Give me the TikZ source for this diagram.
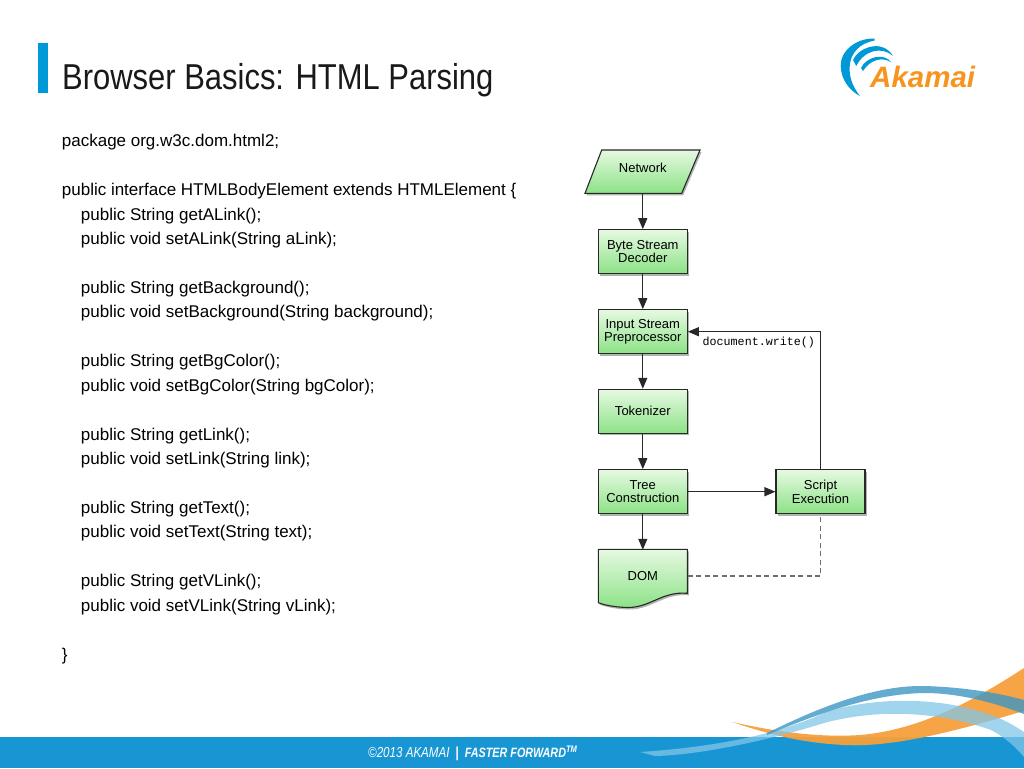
\documentclass[tikz,border=0pt]{standalone}
\usepackage{fontspec}
\setmainfont{Liberation Sans}
\setmonofont{Liberation Mono}
\newfontfamily\titlefont[FakeStretch=0.86]{Liberation Sans}
\newfontfamily\footfont[FakeStretch=0.8]{Liberation Sans}
\usetikzlibrary{arrows.meta,shadows}
\definecolor{akblue}{RGB}{0,153,216}
\definecolor{akorange}{RGB}{247,148,29}
\definecolor{bandblue}{RGB}{24,150,212}
\definecolor{swor}{RGB}{246,160,60}
\definecolor{swdark}{RGB}{60,150,196}
\definecolor{swlight}{RGB}{130,198,232}
\definecolor{gtop}{RGB}{230,249,226}
\definecolor{gbot}{RGB}{140,226,134}
\definecolor{lineC}{RGB}{40,40,40}
\definecolor{dashC}{RGB}{110,110,110}
\definecolor{titleC}{RGB}{25,25,25}
\tikzset{
  procbox/.style={draw=lineC, line width=1.1pt, top color=gtop, bottom color=gbot,
    minimum width=89pt, minimum height=44pt, inner sep=0pt, align=center,
    font=\fontsize{13}{13.4}\selectfont,
    drop shadow={shadow xshift=1.5pt, shadow yshift=-2pt, fill=black, opacity=0.3}},
  shapefill/.style={draw=lineC, line width=1.1pt, top color=gtop, bottom color=gbot,
    drop shadow={shadow xshift=1.5pt, shadow yshift=-2pt, fill=black, opacity=0.3}},
  labelnode/.style={inner sep=0pt, align=center, font=\fontsize{13}{13.4}\selectfont},
  arr/.style={draw=lineC, line width=1.2pt, -{Triangle[length=11pt,width=9pt]}},
  dashline/.style={draw=dashC, line width=1.1pt, dash pattern=on 5pt off 3.5pt},
  code/.style={anchor=base west, inner sep=0pt, text=black, font=\fontsize{17}{18}\selectfont}
}
\begin{document}
\begin{tikzpicture}[x=1pt,y=-1pt]
\fill[white] (0,0) rectangle (1024,768);
\useasboundingbox (0,0) rectangle (1024,768);

% title
\fill[akblue] (38,43) rectangle (47.5,93);
\node[anchor=base west, inner sep=0pt, text=titleC, font=\titlefont\fontsize{36}{40}\selectfont] (title) at (62,89.5) {Browser Basics: HTML Parsing};

% logo
\fill[akblue] (874.7,38.5) .. controls (855,38) and (840,52) .. (840.7,66)
  .. controls (841,80) and (850,91) .. (860,96)
  .. controls (852,86) and (849,76) .. (849.7,67)
  .. controls (850,53) and (860,43) .. (874.7,40.5) -- cycle;
\fill[akblue] (853,60) .. controls (858,48) and (882,38) .. (893,56)
  .. controls (882,46) and (864,50) .. (856.3,66) -- cycle;
\fill[akblue] (861,68) .. controls (866,57) and (884,52) .. (891.3,62.5)
  .. controls (882,56) and (870,60) .. (863,71) -- cycle;
\node[anchor=base west, inner sep=0pt, text=akorange, font=\bfseries\itshape\fontsize{29.5}{30}\selectfont] (logo) at (870,87) {Akamai};

% code
\node[code] (c0) at (61.7,146.7) {package org.w3c.dom.html2;};
\node[code] (c2) at (61.7,195.6) {public interface HTMLBodyElement extends HTMLElement \{};
\node[code] (c3) at (80.7,220.05) {public String getALink();};
\node[code] (c4) at (80.7,244.5) {public void setALink(String aLink);};
\node[code] (c6) at (80.7,293.4) {public String getBackground();};
\node[code] (c7) at (80.7,317.85) {public void setBackground(String background);};
\node[code] (c9) at (80.7,366.75) {public String getBgColor();};
\node[code] (c10) at (80.7,391.2) {public void setBgColor(String bgColor);};
\node[code] (c12) at (80.7,440.1) {public String getLink();};
\node[code] (c13) at (80.7,464.55) {public void setLink(String link);};
\node[code] (c15) at (80.7,513.45) {public String getText();};
\node[code] (c16) at (80.7,537.9) {public void setText(String text);};
\node[code] (c18) at (80.7,586.8) {public String getVLink();};
\node[code] (c19) at (80.7,611.25) {public void setVLink(String vLink);};
\node[code] (c21) at (61.7,660.15) {\}};

% diagram
\path[shapefill] (601.7,150) -- (700,150) -- (681.7,193.3) -- (585,193.3) -- cycle;
\node[labelnode, minimum width=98pt, minimum height=43.3pt, text height=5pt, text depth=4pt] (net) at (642.8,171.7) {Network};
\node[procbox] (byte) at (642.8,251.7) {Byte Stream\\Decoder};
\node[procbox] (inp) at (642.8,331.7) {Input Stream\\Preprocessor};
\node[procbox] (tok) at (642.8,411.3) {Tokenizer};
\node[procbox] (tree) at (642.8,491.7) {Tree\\Construction};
\node[procbox] (script) at (820.5,491.7) {Script\\Execution};
\path[shapefill] (598.3,549.3) -- (687.3,549.3) -- (687.3,593.3)
  .. controls (662,591) and (650,608) .. (627,607.5)
  .. controls (612,607) and (603,604.5) .. (598.3,602.7) -- cycle;
\node[labelnode, minimum width=89pt, minimum height=52pt] (dom) at (642.8,576) {DOM};

\draw[arr] (net.south) -- (byte.north);
\draw[arr] (byte.south) -- (inp.north);
\draw[arr] (inp.south) -- (tok.north);
\draw[arr] (tok.south) -- (tree.north);
\draw[arr] (tree.south) -- (dom.north);
\draw[arr] (tree.east) -- (script.west);
\draw[arr] (script.north) -- (script.north |- inp.east) -- (inp.east);
\node[anchor=base, inner sep=0pt, font=\ttfamily\fontsize{11.7}{12}\selectfont] (dw) at (758.8,345) {document.write()};
\draw[dashline] (dom.east) -| (script.south);

% footer band and swooshes
\fill[bandblue] (0,736.5) rectangle (1024,768);
\fill[swor, opacity=0.95] (732,722) .. controls (790,735) and (830,737) .. (860,735)
  .. controls (920,730) and (975,700) .. (1024,668) -- (1024,711)
  .. controls (975,725) and (900,748) .. (845,745)
  .. controls (800,743) and (765,733) .. (732,722) -- cycle;
\fill[swlight, opacity=0.75] (640,752) .. controls (700,748) and (770,738) .. (824,713)
  .. controls (860,700) and (930,693) .. (991,715)
  .. controls (1005,720) and (1015,726) .. (1024,732) -- (1024,757)
  .. controls (1010,740) and (995,732) .. (991,730)
  .. controls (940,712) and (880,708) .. (824,723)
  .. controls (770,740) and (700,755) .. (655,756) -- cycle;
\fill[swdark, opacity=0.8] (767,733) .. controls (810,712) and (870,685) .. (924,686)
  .. controls (960,687) and (995,692) .. (1024,700) -- (1024,714)
  .. controls (995,703) and (960,693) .. (924,693)
  .. controls (870,694) and (815,715) .. (767,735) -- cycle;
\node[anchor=base west, inner sep=0pt, text=white, font=\footfont\itshape\fontsize{14.5}{16}\selectfont] (foot) at (368,757.3)
  {©2013 AKAMAI\hspace{6pt}{\upshape\bfseries|}\hspace{6pt}{\bfseries\fontsize{13.5}{16}\selectfont FASTER FORWARD\textsuperscript{TM}}};
\end{tikzpicture}
\end{document}
